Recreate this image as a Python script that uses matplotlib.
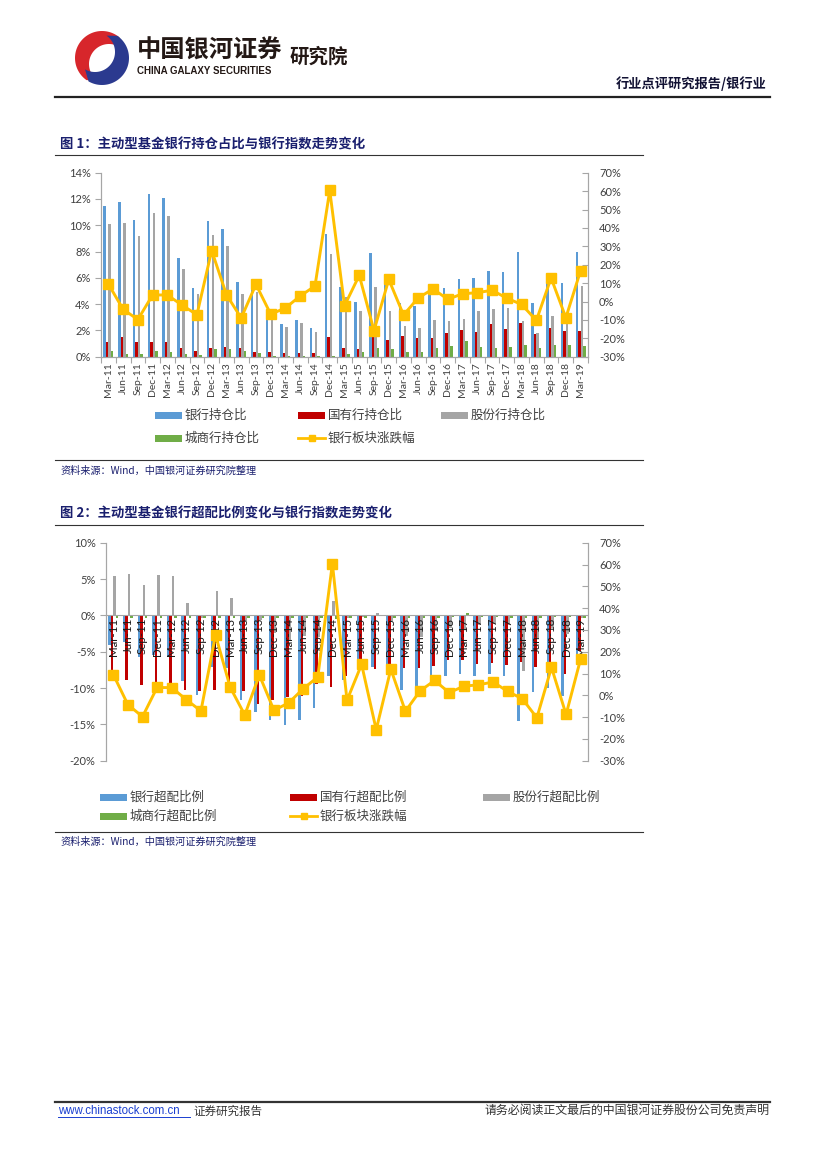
import matplotlib
matplotlib.use('Agg')
import matplotlib.pyplot as plt
import numpy as np
from matplotlib.patches import Rectangle, Polygon

W, H = 827, 1169
CJK = 'Noto Sans CJK SC'
LAT = ['Lato', CJK]

# ---------------- data ----------------
quarters = ['Mar-11', 'Jun-11', 'Sep-11', 'Dec-11', 'Mar-12', 'Jun-12', 'Sep-12', 'Dec-12',
            'Mar-13', 'Jun-13', 'Sep-13', 'Dec-13', 'Mar-14', 'Jun-14', 'Sep-14', 'Dec-14',
            'Mar-15', 'Jun-15', 'Sep-15', 'Dec-15', 'Mar-16', 'Jun-16', 'Sep-16', 'Dec-16',
            'Mar-17', 'Jun-17', 'Sep-17', 'Dec-17', 'Mar-18', 'Jun-18', 'Sep-18', 'Dec-18',
            'Mar-19']

# Figure 1: holdings ratio (%)
bank_hold = [11.5, 11.8, 10.4, 12.4, 12.1, 7.5, 5.2, 10.3, 9.7, 5.7, 5.4, 3.3, 2.5, 2.8, 2.15, 9.35,
             5.3, 4.2, 7.9, 5.5, 4.1, 3.85, 5.1, 5.2, 5.95, 6.0, 6.55, 6.45, 8.0, 4.1, 6.0, 5.6, 8.0]
soe_hold = [1.15, 1.5, 1.15, 1.15, 1.1, 0.65, 0.45, 0.65, 0.75, 0.65, 0.38, 0.36, 0.3, 0.3, 0.3, 1.5,
            0.7, 0.57, 1.7, 1.28, 1.58, 1.45, 1.4, 1.84, 2.05, 1.9, 2.47, 2.1, 2.6, 1.75, 2.15, 1.95, 1.96]
jsb_hold = [10.1, 10.2, 9.15, 10.95, 10.7, 6.7, 4.8, 9.25, 8.45, 4.75, 4.9, 3.2, 2.25, 2.55, 1.9, 7.85,
            4.55, 3.45, 5.3, 3.5, 2.37, 2.17, 2.78, 2.7, 2.86, 3.44, 3.6, 3.7, 2.68, 1.84, 3.1, 3.3, 5.36]
city_hold = [0.42, 0.23, 0.2, 0.42, 0.36, 0.2, 0.12, 0.55, 0.58, 0.42, 0.25, 0.05, 0.05, 0.04, 0.04, 0.05,
             0.22, 0.35, 0.66, 0.6, 0.35, 0.38, 0.68, 0.82, 1.18, 0.77, 0.66, 0.74, 0.89, 0.66, 0.89, 0.92, 0.82]

# Bank sector index change (%), shared by both figures
bank_index_chg = [9.5, -4.3, -9.8, 3.6, 3.5, -2.0, -7.2, 27.7, 3.7, -9.0, 9.3, -6.9, -3.5, 3.0, 8.4, 60.4,
                  -2.3, 14.2, -15.8, 12.0, -7.3, 2.0, 6.8, 1.2, 4.2, 4.8, 6.1, 1.8, -1.6, -10.3, 12.8, -8.8, 16.8]

# Figure 2: overweight ratio (%)
bank_over = [-4.1, -3.6, -5.7, -5.5, -5.7, -9.0, -10.9, -7.1, -7.2, -11.6, -13.3, -14.4, -15.1, -14.4, -12.8, -8.3,
             -8.9, -6.4, -7.1, -8.2, -10.3, -10.5, -9.4, -8.3, -8.0, -8.3, -8.1, -8.4, -14.5, -10.5, -10.0, -11.1, -5.6]
soe_over = [-9.1, -8.9, -9.6, -9.8, -9.8, -10.3, -10.4, -10.3, -9.1, -10.4, -12.2, -11.6, -11.2, -11.1, -9.4, -9.8,
            -8.4, -6.2, -7.4, -7.1, -7.2, -7.2, -7.0, -6.2, -6.2, -6.7, -6.5, -6.8, -6.4, -7.1, -8.0, -8.1, -4.9]
jsb_over = [5.4, 5.7, 4.2, 5.5, 5.4, 1.7, -0.3, 3.4, 2.4, -0.8, -0.7, -2.4, -3.5, -2.9, -3.0, 2.0,
            -0.3, -0.2, 0.3, -0.8, -2.8, -3.0, -2.1, -1.8, -2.0, -1.3, -1.2, -1.3, -7.7, -3.1, -1.7, -2.6, -0.3]
city_over = [-0.4, -0.4, -0.4, -0.4, -0.4, -0.4, -0.4, -0.3, -0.3, -0.4, -0.4, -0.4, -0.4, -0.4, -0.4, -0.5,
             -0.4, -0.3, -0.1, -0.3, -0.4, -0.4, -0.3, -0.2, 0.3, -0.2, -0.2, -0.3, -0.3, -0.3, -0.2, -0.2, -0.3]

legend1 = ['银行持仓比', '国有行持仓比', '股份行持仓比', '城商行持仓比', '银行板块涨跌幅']
legend2 = ['银行超配比例', '国有行超配比例', '股份行超配比例', '城商行超配比例', '银行板块涨跌幅']
title1 = '图 1：主动型基金银行持仓占比与银行指数走势变化'
title2 = '图 2：主动型基金银行超配比例变化与银行指数走势变化'
source = '资料来源：Wind，中国银河证券研究院整理'

BLUE, RED, GRAY, GREEN, GOLD = '#5B9BD5', '#C00000', '#A5A5A5', '#70AD47', '#FFC000'
AXC = '#A6A6A6'
TXT = '#404040'
NAVY = '#1a1f6e'

fig = plt.figure(figsize=(W / 100, H / 100), dpi=100)
bg = fig.add_axes([0, 0, 1, 1])
bg.set_xlim(0, W)
bg.set_ylim(H, 0)
bg.axis('off')


def rect(l, t, r, b):
    return [l / W, 1 - b / H, (r - l) / W, (b - t) / H]


# ---------------- header ----------------
cx, cy = 102, 58
th = np.radians(np.linspace(50, 235, 60))
outer = np.c_[cx + 27 * np.cos(th), cy - 27 * np.sin(th)]
inner = np.c_[cx + 7 + 20 * np.cos(th[::-1]), cy + 6 - 20 * np.sin(th[::-1])]
bg.add_patch(Polygon(np.r_[outer, inner], closed=True, color='#D7262B', lw=0))
th = np.radians(np.linspace(240, 415, 60))
outer = np.c_[cx + 27 * np.cos(th), cy - 27 * np.sin(th)]
inner = np.c_[cx - 7 + 20 * np.cos(th[::-1]), cy - 6 - 20 * np.sin(th[::-1])]
bg.add_patch(Polygon(np.r_[outer, inner], closed=True, color='#2B3A8F', lw=0))

bg.text(137, 51, '中国银河证券', fontsize=17.5, fontweight='bold', family=CJK,
        color='#231815', va='center', ha='left')
bg.text(137, 71, 'CHINA GALAXY SECURITIES', fontsize=7.0, fontweight='bold',
        family='Liberation Sans', color='#231815', va='center', ha='left')
bg.text(290, 57, '研究院', fontsize=14, fontweight='bold', family=CJK,
        color='#231815', va='center', ha='left')
bg.text(767, 84, '行业点评研究报告/银行业', fontsize=9.5, fontweight='bold', family=CJK,
        color='#111133', va='center', ha='right')
bg.plot([55, 770], [97, 97], color='#222222', lw=1.6)

# ---------------- titles / rules ----------------
bg.text(60, 145, title1, fontsize=9.6, fontweight='bold', family=CJK, color=NAVY, va='center')
bg.plot([55, 643], [155, 155], color='#333333', lw=0.8)
bg.plot([55, 643], [460, 460], color='#333333', lw=0.8)
bg.text(60, 471, source, fontsize=7.3, family=CJK, color=NAVY, va='center', style='italic')

bg.text(60, 514, title2, fontsize=9.6, fontweight='bold', family=CJK, color=NAVY, va='center')
bg.plot([55, 643], [525, 525], color='#333333', lw=0.8)
bg.plot([55, 643], [832, 832], color='#333333', lw=0.8)
bg.text(60, 842, source, fontsize=7.3, family=CJK, color=NAVY, va='center', style='italic')

# ---------------- footer ----------------
bg.plot([55, 770], [1102, 1102], color='#333333', lw=1.6)
bg.text(58, 1111, 'www.chinastock.com.cn', fontsize=8.3, family='Liberation Sans',
        color='#1a3fd0', va='center')
bg.plot([58, 190], [1116.5, 1116.5], color='#1a3fd0', lw=0.7)
bg.text(193, 1111, '证券研究报告', fontsize=8.3, family=CJK, color='#333333', va='center')
bg.text(770, 1111, '请务必阅读正文最后的中国银河证券股份公司免责声明', fontsize=8.6, family=CJK,
        color='#333333', va='center', ha='right')

n = len(quarters)
x = np.arange(n)
offs = [-0.255, -0.085, 0.085, 0.255]
bw = 0.17


def style_axes(ax, axr):
    ax.spines['top'].set_visible(False)
    axr.spines['top'].set_visible(False)
    for s in ['left', 'bottom', 'right']:
        ax.spines[s].set_color(AXC)
        axr.spines[s].set_color(AXC)
    ax.tick_params(axis='y', colors=AXC, labelcolor=TXT, labelsize=8, length=4, width=0.8)
    axr.tick_params(axis='y', colors=AXC, labelcolor=TXT, labelsize=8, length=4, width=0.8,
                    direction='in', pad=8)
    for lab in ax.get_yticklabels() + axr.get_yticklabels():
        lab.set_family(LAT)
    ax.patch.set_alpha(0)


# ---------------- chart 1 ----------------
ax1 = fig.add_axes(rect(101, 172.7, 588, 356.7))
ax1.bar(x + offs[0], bank_hold, bw, color=BLUE, zorder=2)
ax1.bar(x + offs[1], soe_hold, bw, color=RED, zorder=2)
ax1.bar(x + offs[2], jsb_hold, bw, color=GRAY, zorder=2)
ax1.bar(x + offs[3], city_hold, bw, color=GREEN, zorder=2)
ax1.set_xlim(-0.5, n - 0.5)
ax1.set_ylim(0, 14)
ax1.set_yticks(np.arange(0, 15, 2))
ax1.set_yticklabels([f'{v}%' for v in range(0, 15, 2)])
ax1.set_xticks(x)
ax1.set_xticklabels(quarters, rotation=90, fontsize=7.5, color=TXT, family=LAT)
ax1.tick_params(axis='x', which='major', length=0, pad=4)
ax1.set_xticks(np.arange(-0.5, n, 1), minor=True)
ax1.tick_params(axis='x', which='minor', length=4, color=AXC, width=0.8)
ax1r = ax1.twinx()
ax1r.plot(x, bank_index_chg, color=GOLD, lw=2.1, marker='s', ms=6.5, zorder=5)
ax1r.set_ylim(-30, 70)
ax1r.set_yticks(np.arange(-30, 71, 10))
ax1r.set_yticklabels([f'{v}%' for v in range(-30, 71, 10)])
style_axes(ax1, ax1r)

# ---------------- chart 2 ----------------
ax2 = fig.add_axes(rect(106, 542.7, 588, 760.7))
ax2.bar(x + offs[0], bank_over, bw, color=BLUE, zorder=2)
ax2.bar(x + offs[1], soe_over, bw, color=RED, zorder=2)
ax2.bar(x + offs[2], jsb_over, bw, color=GRAY, zorder=2)
ax2.bar(x + offs[3], city_over, bw, color=GREEN, zorder=2)
ax2.axhline(0, color=AXC, lw=0.8, zorder=3)
ax2.set_xlim(-0.5, n - 0.5)
ax2.set_ylim(-20, 10)
ax2.set_yticks(np.arange(-20, 11, 5))
ax2.set_yticklabels([f'{v}%' for v in range(-20, 11, 5)])
ax2.set_xticks([])
for i, q in enumerate(quarters):
    ax2.text(i, -0.35, q, rotation=90, ha='center', va='top', fontsize=8.3, color='#1a1a1a',
             family=LAT, zorder=4)
ax2r = ax2.twinx()
ax2r.plot(x, bank_index_chg, color=GOLD, lw=2.1, marker='s', ms=6.5, zorder=5)
ax2r.set_ylim(-30, 70)
ax2r.set_yticks(np.arange(-30, 71, 10))
ax2r.set_yticklabels([f'{v}%' for v in range(-30, 71, 10)])
style_axes(ax2, ax2r)
ax2.spines['bottom'].set_visible(False)
ax2r.spines['bottom'].set_visible(False)


# ---------------- legends ----------------
def leg_patch(x0, y0, color, label, w=27):
    bg.add_patch(Rectangle((x0, y0 - 3.5), w, 7, color=color, lw=0))
    bg.text(x0 + w + 3, y0, label, fontsize=9, family=CJK, color=TXT, va='center')


def leg_line(x0, y0, label, w=27):
    bg.plot([x0, x0 + w], [y0, y0], color=GOLD, lw=2)
    bg.plot([x0 + w / 2], [y0], marker='s', ms=5, color=GOLD)
    bg.text(x0 + w + 3, y0, label, fontsize=9, family=CJK, color=TXT, va='center')


leg_patch(155, 415, BLUE, legend1[0])
leg_patch(298, 415, RED, legend1[1])
leg_patch(441, 415, GRAY, legend1[2])
leg_patch(155, 438, GREEN, legend1[3])
leg_line(298, 438, legend1[4])

leg_patch(100, 797, BLUE, legend2[0])
leg_patch(290, 797, RED, legend2[1])
leg_patch(483, 797, GRAY, legend2[2])
leg_patch(100, 816, GREEN, legend2[3])
leg_line(290, 816, legend2[4])

fig.savefig('out.png', dpi=100)
